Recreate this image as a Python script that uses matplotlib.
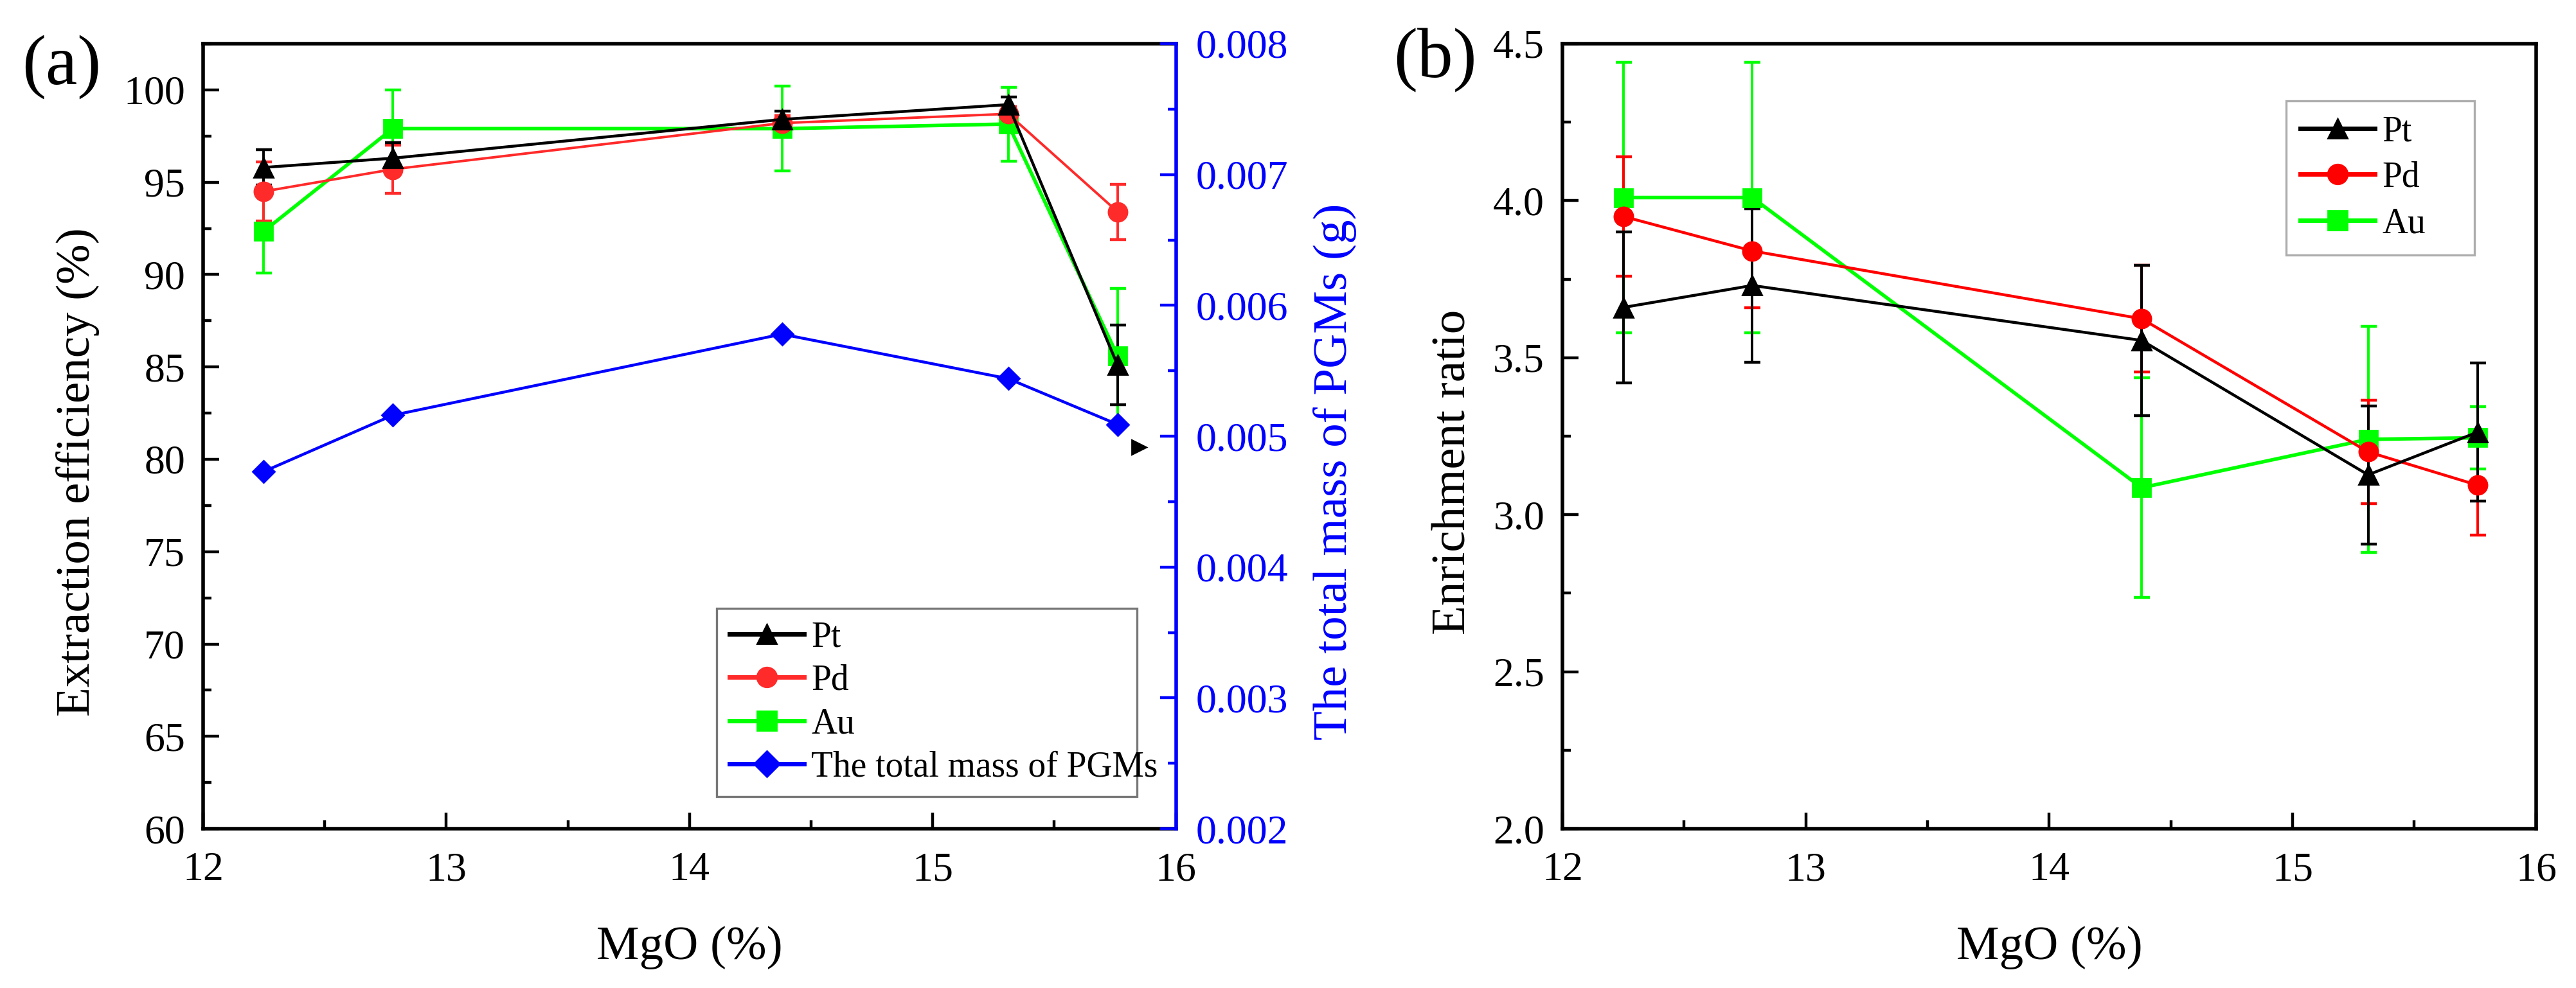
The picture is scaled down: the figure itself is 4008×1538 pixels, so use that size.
import numpy as np
import matplotlib.pyplot as plt
from matplotlib.ticker import MultipleLocator, FormatStrFormatter
from matplotlib.lines import Line2D

plt.rcParams['font.family'] = ['Liberation Serif', 'DejaVu Serif']

mgo = [12.25, 12.78, 14.38, 15.31, 15.76]

# (a) extraction efficiency (%) and total PGM mass (g)
pt_eff = [95.8, 96.3, 98.4, 99.2, 85.1]
pt_eff_err = [0.95, 0.85, 0.45, 0.4, 2.15]
pd_eff = [94.5, 95.7, 98.2, 98.7, 93.4]
pd_eff_err = [1.6, 1.3, 0.4, 0.4, 1.5]
au_eff = [92.35, 97.9, 97.9, 98.15, 85.6]
au_eff_err = [2.25, 2.1, 2.3, 2.0, 3.65]
pgm_mass = [0.00473, 0.00516, 0.00578, 0.00544, 0.00509]

# (b) enrichment ratio
pt_ratio = [3.66, 3.73, 3.555, 3.127, 3.263]
pt_ratio_err = [0.24, 0.245, 0.24, 0.22, 0.22]
pd_ratio = [3.95, 3.84, 3.624, 3.20, 3.094]
pd_ratio_err = [0.19, 0.18, 0.17, 0.165, 0.16]
au_ratio = [4.01, 4.01, 3.086, 3.24, 3.245]
au_ratio_err = [0.43, 0.43, 0.35, 0.36, 0.1]

BLACK = 'black'
RED = '#FF2A2A'
GREEN = '#00FF00'
BLUE = '#0000FF'

fig = plt.figure(figsize=(20.04, 7.69), dpi=200)
ax1 = fig.add_axes([0.0788, 0.1612, 0.3777, 0.7946])
ax2 = fig.add_axes([0.6065, 0.1612, 0.378, 0.7946])


def style_axis(ax):
    for s in ax.spines.values():
        s.set_linewidth(2)
    ax.tick_params(which='both', direction='in', width=1.6, top=False, right=False)
    ax.tick_params(which='major', length=9, labelsize=23)
    ax.tick_params(axis='y', which='major', pad=10)
    ax.tick_params(axis='x', which='major', pad=13)
    ax.tick_params(which='minor', length=4.7)
    ax.set_xlim(12, 16)
    ax.xaxis.set_major_locator(MultipleLocator(1))
    ax.xaxis.set_minor_locator(MultipleLocator(0.5))


def draw_series(ax, y, err, color, marker, lw, ms):
    ax.errorbar(mgo, y, yerr=err, color=color, marker=marker, ms=ms, lw=lw,
                elinewidth=1.4, capsize=4.5, capthick=1.6)


# ---- panel (a)
style_axis(ax1)
ax1.set_ylim(60, 102.5)
ax1.yaxis.set_major_locator(MultipleLocator(5))
ax1.yaxis.set_minor_locator(MultipleLocator(2.5))
ax1.spines['right'].set_visible(False)

draw_series(ax1, au_eff, au_eff_err, GREEN, 's', 2.0, 10)
draw_series(ax1, pd_eff, pd_eff_err, RED, 'o', 1.4, 10.5)
draw_series(ax1, pt_eff, pt_eff_err, BLACK, '^', 1.6, 11)

ax1t = ax1.twinx()
ax1t.set_ylim(0.002, 0.008)
ax1t.yaxis.set_major_locator(MultipleLocator(0.001))
ax1t.yaxis.set_minor_locator(MultipleLocator(0.0005))
ax1t.yaxis.set_major_formatter(FormatStrFormatter('%.3f'))
for name in ['left', 'top', 'bottom']:
    ax1t.spines[name].set_visible(False)
ax1t.spines['right'].set_linewidth(2)
ax1t.spines['right'].set_color(BLUE)
ax1t.tick_params(which='both', direction='in', width=1.6, colors=BLUE)
ax1t.tick_params(which='major', length=9, labelsize=23, pad=11)
ax1t.tick_params(which='minor', length=4.7)
ax1t.plot(mgo, pgm_mass, color=BLUE, marker='D', ms=8.5, lw=1.6)

# small arrow mark next to the right axis
ax1t.plot([0.962], [0.486], marker='>', ms=8, color='black', transform=ax1t.transAxes, clip_on=False)

handles_a = [
    Line2D([], [], color=BLACK, marker='^', ms=11, lw=2.5),
    Line2D([], [], color=RED, marker='o', ms=11, lw=2.5),
    Line2D([], [], color=GREEN, marker='s', ms=11, lw=2.5),
    Line2D([], [], color=BLUE, marker='D', ms=10, lw=2.5),
]
leg = ax1t.legend(handles_a, ['Pt', 'Pd', 'Au', 'The total mass of PGMs'],
                  loc='upper left', bbox_to_anchor=(0.528, 0.041, 0.432, 0.240),
                  mode='expand', fontsize=20,
                  frameon=True, fancybox=False, edgecolor='#555555',
                  handlelength=2.1, handletextpad=0.2, labelspacing=0.28,
                  borderpad=0.35, borderaxespad=0)
leg.get_frame().set_linewidth(1.2)

fig.text(0.0302, 0.5224, 'Extraction efficiency (%)', rotation=90, ha='center', va='center', fontsize=27)
fig.text(0.5182, 0.5224, 'The total mass of PGMs (g)', rotation=90, ha='center', va='center',
         fontsize=27, color=BLUE)
fig.text(0.2677, 0.041, 'MgO (%)', ha='center', va='center', fontsize=27)
fig.text(0.024, 0.932, '(a)', ha='center', va='center', fontsize=40)

# ---- panel (b)
style_axis(ax2)
ax2.set_ylim(2.0, 4.5)
ax2.yaxis.set_major_locator(MultipleLocator(0.5))
ax2.yaxis.set_minor_locator(MultipleLocator(0.25))
ax2.yaxis.set_major_formatter(FormatStrFormatter('%.1f'))

draw_series(ax2, au_ratio, au_ratio_err, GREEN, 's', 2.0, 10)
draw_series(ax2, pd_ratio, pd_ratio_err, '#FF0000', 'o', 1.6, 10.5)
draw_series(ax2, pt_ratio, pt_ratio_err, BLACK, '^', 1.6, 11)

handles_b = [
    Line2D([], [], color=BLACK, marker='^', ms=11, lw=2.5),
    Line2D([], [], color='#FF0000', marker='o', ms=11, lw=2.5),
    Line2D([], [], color=GREEN, marker='s', ms=11, lw=2.5),
]
leg2 = ax2.legend(handles_b, ['Pt', 'Pd', 'Au'], loc='upper left',
                  bbox_to_anchor=(0.743, 0.745, 0.194, 0.182), mode='expand',
                  fontsize=20, frameon=True,
                  fancybox=False, edgecolor='#999999', handlelength=2.1,
                  handletextpad=0.2, labelspacing=0.35, borderpad=0.4, borderaxespad=0)
leg2.get_frame().set_linewidth(1.2)

fig.text(0.5643, 0.5224, 'Enrichment ratio', rotation=90, ha='center', va='center', fontsize=27)
fig.text(0.7955, 0.041, 'MgO (%)', ha='center', va='center', fontsize=27)
fig.text(0.557, 0.939, '(b)', ha='center', va='center', fontsize=40)

fig.savefig('out.png', dpi=200)
